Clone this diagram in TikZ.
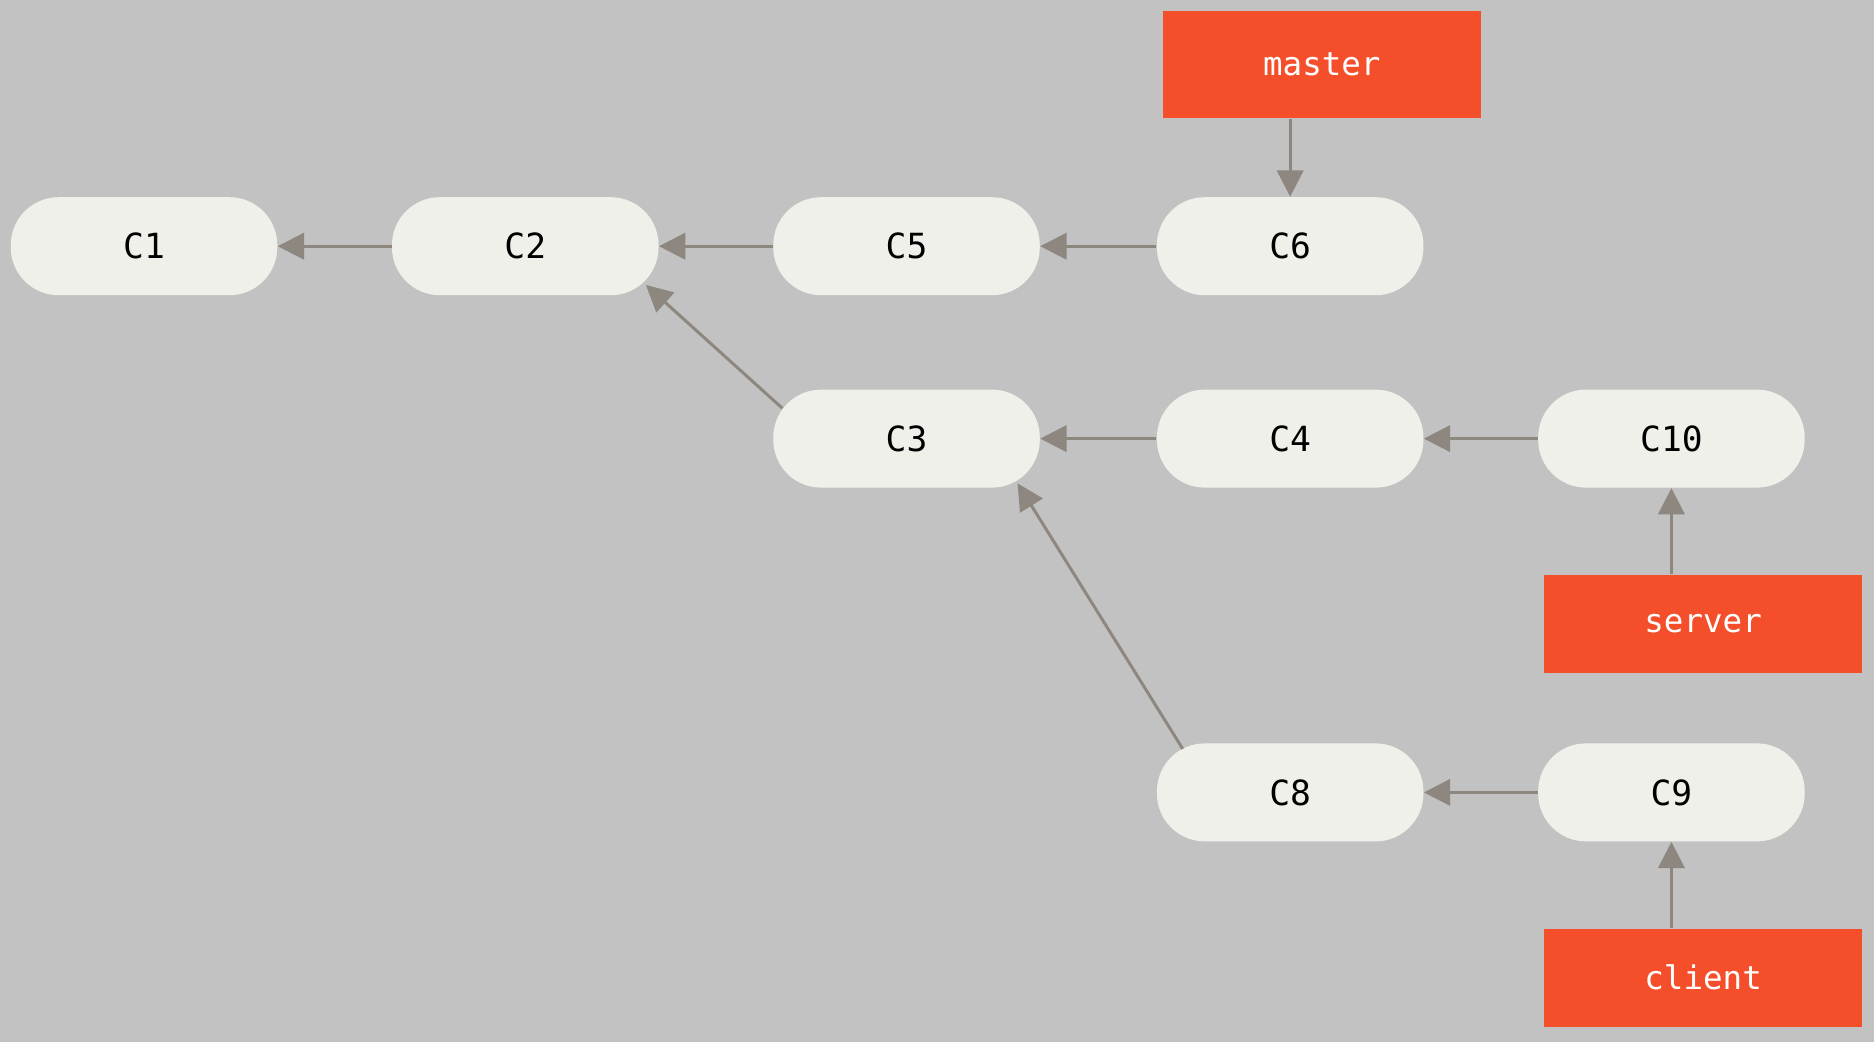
\documentclass[tikz,border=0pt]{standalone}
\usepackage{fontspec}
\setmonofont{DejaVu Sans Mono}
\usetikzlibrary{arrows.meta,calc}
\definecolor{bg}{HTML}{C2C2C2}
\definecolor{commitfill}{HTML}{F0F0EA}
\definecolor{branchfill}{HTML}{F44F2A}
\definecolor{edgecol}{HTML}{8E877F}
\tikzset{
  commit/.style={draw=none, fill=commitfill, rounded corners=20pt, minimum width=111.5pt, minimum height=41pt, inner sep=0pt, font=\ttfamily\fontsize{14.5}{16}\selectfont, text=black},
  branch/.style={draw=none, fill=branchfill, minimum width=133pt, minimum height=41pt, inner sep=0pt, font=\ttfamily\fontsize{13.6}{15}\selectfont, text=white},
  arr/.style={draw=edgecol, line width=1.25pt, -{Triangle[length=11pt,width=11pt]}, edgecol}
}
\begin{document}
\begin{tikzpicture}[x=0.5pt,y=-0.5pt]
\useasboundingbox (0,0) rectangle (1568,872);
\fill[bg] (0,0) rectangle (1568,872);
\node[commit] (c1) at (120.5,206) {C1};
\node[commit] (c2) at (439.5,206) {C2};
\node[commit] (c5) at (758.5,206) {C5};
\node[commit] (c6) at (1079.5,206) {C6};
\node[commit] (c3) at (758.5,367) {C3};
\node[commit] (c4) at (1079.5,367) {C4};
\node[commit] (c10) at (1398.5,367) {C10};
\node[commit] (c8) at (1079.5,663) {C8};
\node[commit] (c9) at (1398.5,663) {C9};
\node[branch, minimum height=45pt] (master) at (1106,54) {master};
\node[branch] (server) at (1425,522) {server};
\node[branch] (client) at (1425,818) {client};
\draw[arr] (c2) -- (c1);
\draw[arr] (c5) -- (c2);
\draw[arr] (c6) -- (c5);
\draw[arr] (c4) -- (c3);
\draw[arr] (c10) -- (c4);
\draw[arr] (c9) -- (c8);
\draw[arr] ($(c3.north west)+(8,16)$) -- ($(c2.south east)+(-11,-9)$);
\draw[arr] ($(c8.north west)+(22,5)$) -- ($(c3.south east)+(-19,-4)$);
\draw[arr] (master.south -| c6.north) -- (c6.north);
\draw[arr] (server.north -| c10.south) -- (c10.south);
\draw[arr] (client.north -| c9.south) -- (c9.south);
\end{tikzpicture}
\end{document}
